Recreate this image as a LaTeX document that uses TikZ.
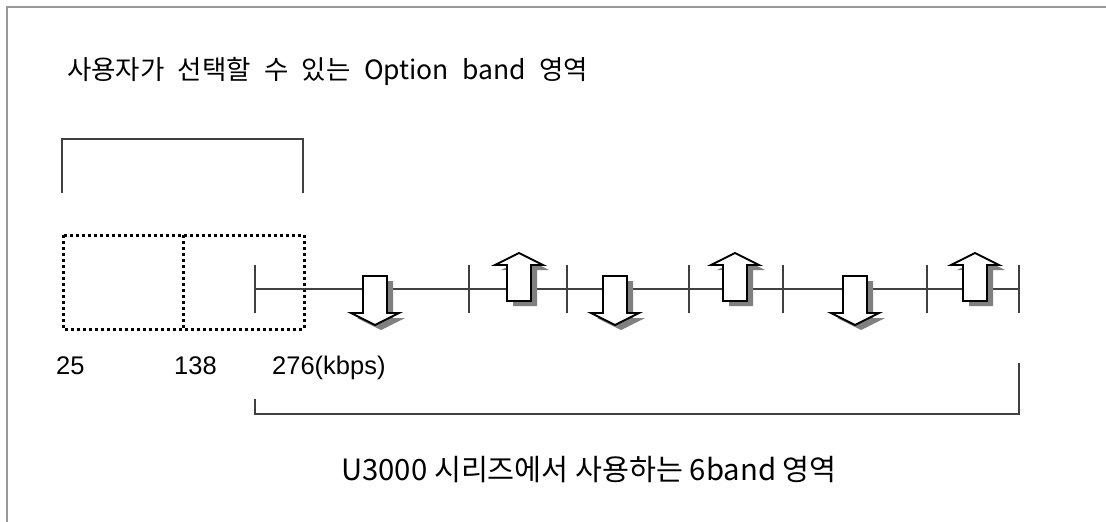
\documentclass[tikz,border=0pt]{standalone}
\usepackage{fontspec}
\setmainfont{Liberation Sans}
\newfontfamily\kfont{Noto Sans CJK KR}
\newcommand\mytitlefont{\kfont\fontsize{26.5}{30}\selectfont\spaceskip=0.5em\relax}
\begin{document}
\begin{tikzpicture}[x=1pt,y=-1pt,
  frameline/.style={draw=black!40,line width=2pt},
  grayline/.style={draw=black!75,line width=1.6pt},
  dotbox/.style={draw=black,line width=3pt,dash pattern=on 3pt off 3pt},
  arrowbody/.style={draw=black,fill=white,line width=1.9pt,line join=miter},
  arrowshadow/.style={fill=black!50,draw=none},
  numlabel/.style={font=\fontsize{25.5}{28}\selectfont,anchor=base west,inner sep=0pt},
]
\useasboundingbox (0,0) rectangle (1106,522);
\clip (0,0) rectangle (1106,522);
% frame
\draw[frameline] (6.5,7) rectangle (1130,560);
% title
\node[anchor=base west,inner sep=0pt,font=\mytitlefont] (title) at (67,79) {사용자가 선택할 수 있는 Option band 영역};
% top bracket
\coordinate (bl) at (62,193);
\coordinate (br) at (303,193);
\draw[grayline] (bl) -- (62,139) -- (303,139) -- (br);
% dotted boxes
\draw[dotbox] (63,235) rectangle (304,329);
\draw[dotbox] (183,235) -- (183,329);
% axis
\coordinate (a0) at (255,289);
\coordinate (a1) at (1019,289);
\draw[grayline] (a0) -- (a1);
\foreach \x in {255,469,567,689,783,927,1019}{
  \draw[grayline] (\x,265) -- (\x,313);
}
% arrows
\newcommand\mydarr[1]{%
  \fill[arrowshadow,shift={(#1+6,5)}] (-12,276) -- (12,276) -- (12,313) -- (24,313) -- (0,325) -- (-24,313) -- (-12,313) -- cycle;
  \draw[arrowbody,shift={(#1,0)}] (-12,276) -- (12,276) -- (12,313) -- (24,313) -- (0,325) -- (-24,313) -- (-12,313) -- cycle;}
\newcommand\myuarr[1]{%
  \fill[arrowshadow,shift={(#1+6,5)}] (-12,301) -- (12,301) -- (12,265) -- (24,265) -- (0,253) -- (-24,265) -- (-12,265) -- cycle;
  \draw[arrowbody,shift={(#1,0)}] (-12,301) -- (12,301) -- (12,265) -- (24,265) -- (0,253) -- (-24,265) -- (-12,265) -- cycle;}
\mydarr{375}
\myuarr{519}
\mydarr{615}
\myuarr{735}
\mydarr{855}
\myuarr{975}
% number labels
\node[numlabel] (n25) at (56,374) {25};
\node[numlabel] (n138) at (174,374) {138};
\node[numlabel] (n276) at (272,374) {276(kbps)};
% bottom bracket
\coordinate (cl) at (255,399);
\coordinate (cr) at (1019,363);
\draw[grayline] (cl) -- (255,414) -- (1019,414) -- (cr);
% bottom text
\node[anchor=base,inner sep=0pt,font=\kfont\fontsize{29.3}{33}\selectfont] (bottom) at (589,480) {U3000 시리즈에서 사용하는 6band 영역};
\end{tikzpicture}
\end{document}
